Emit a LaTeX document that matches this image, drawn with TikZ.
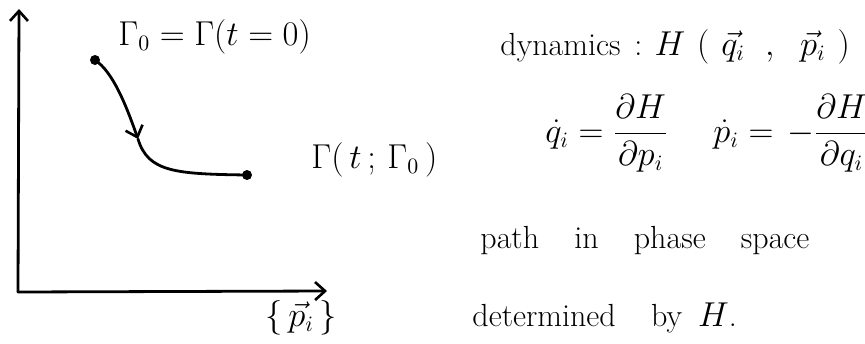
\documentclass[tikz,border=0pt]{standalone}
\usepackage{amsmath,amssymb}
\usetikzlibrary{arrows.meta,positioning}
\newcommand{\notefont}{\fontsize{16}{20}\selectfont\spaceskip=1.1em\relax}
\begin{document}
\begin{tikzpicture}[
    x=0.5pt, y=-0.5pt,
    pen/.style={line width=1.4pt, line cap=round, line join=round},
    barb/.style={-{Straight Barb[length=5pt, width=9pt, line width=1.3pt]}},
    axis/.style={pen, barb},
    dot/.style={circle, fill, inner sep=0pt, minimum size=5pt},
    note/.style={font=\notefont, inner sep=0pt}
  ]
    \useasboundingbox (0,0) rectangle (865,343);
    \coordinate (origin) at (18,292);
    \coordinate (ytip) at (19,9);
    \coordinate (xtip) at (327,291);
    \foreach \t in {ytip, xtip}
      \draw[axis] (origin) -- (\t);
    \node[dot] (start) at (95,60) {};
    \node[dot] (stop) at (247,175) {};
    \coordinate (flow) at (138,139);
    \draw[pen, barb] (start.center) .. controls (113,72) and (126,105) .. (flow);
    \draw[pen] (flow) .. controls (148,172) and (175,174) .. (stop.center);
    \node[note, anchor=west] (gamma0) at (118,37) {$\Gamma_0 = \Gamma(t=0)$};
    \node[note, anchor=west] (gammat) at (311,160) {$\Gamma(\,t\,;\,\Gamma_0\,)$};
    \node[note, anchor=west] (pset) at (265,318) {$\{\,\vec p_i\,\}$};
    \node[note, anchor=base west] (dyn) at (500,55)
      {dynamics\hspace{7pt}:\hspace{6pt}$H\hspace{6pt}(\hspace{6pt}\vec q_i\hspace{10pt},\hspace{10pt}\vec p_i\hspace{6pt})$};
    \node[note, anchor=base west] (qdot) at (545,142)
      {$\dot q_i = \dfrac{\partial H}{\partial p_i}$};
    \node[note, anchor=base west] (pdot) at (713,142)
      {$\dot p_i = \hspace{2pt}-\dfrac{\partial H}{\partial q_i}$};
    \node[note, anchor=base west] (path) at (480,248) {path in phase space};
    \node[note, anchor=base west] (det) at (472,326) {determined by\hspace{8pt}$H$.};
  \end{tikzpicture}
\end{document}
